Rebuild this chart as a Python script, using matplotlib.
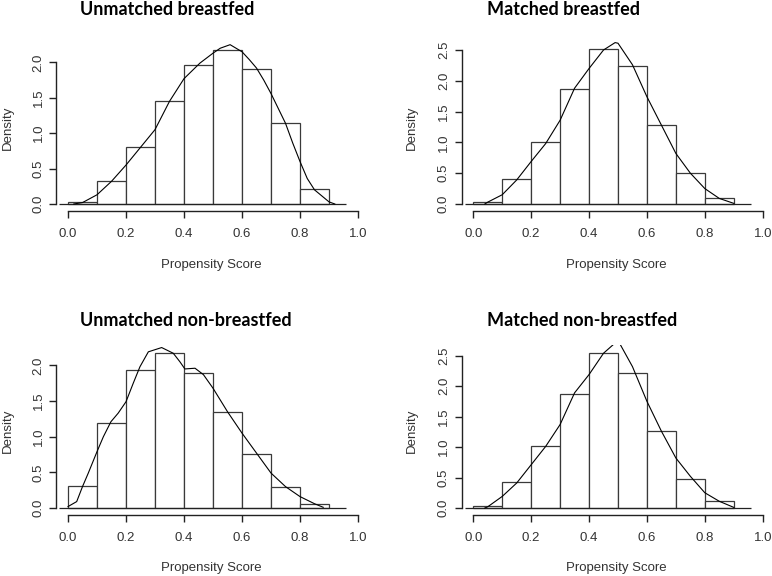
import matplotlib
matplotlib.use("Agg")
import matplotlib.pyplot as plt

W, H = 772, 576

# histogram bins (propensity score)
bin_left = [0.0, 0.1, 0.2, 0.3, 0.4, 0.5, 0.6, 0.7, 0.8]
bin_width = 0.1

# bar heights (density)
unmatched_bf = [0.03, 0.33, 0.80, 1.46, 1.96, 2.18, 1.90, 1.15, 0.21]
matched_bf = [0.04, 0.41, 1.01, 1.87, 2.51, 2.24, 1.28, 0.51, 0.09]
unmatched_nbf = [0.31, 1.19, 1.94, 2.18, 1.89, 1.35, 0.76, 0.29, 0.06]
matched_nbf = [0.04, 0.42, 1.01, 1.87, 2.54, 2.22, 1.27, 0.47, 0.11]

# kernel density curves
kde_x_ubf = [0.02, 0.05, 0.10, 0.15, 0.20, 0.25, 0.30, 0.35, 0.40, 0.455, 0.50, 0.525,
             0.559, 0.60, 0.625, 0.65, 0.675, 0.70, 0.725, 0.75, 0.775, 0.80, 0.825,
             0.85, 0.90, 0.92]
kde_y_ubf = [0.00, 0.02, 0.13, 0.32, 0.55, 0.80, 1.05, 1.45, 1.77, 1.99, 2.13, 2.20,
             2.25, 2.15, 2.04, 1.92, 1.75, 1.56, 1.35, 1.14, 0.86, 0.60, 0.36,
             0.20, 0.03, 0.00]

kde_x_mbf = [0.04, 0.05, 0.10, 0.15, 0.20, 0.25, 0.30, 0.35, 0.40, 0.45, 0.49, 0.50,
             0.55, 0.60, 0.65, 0.70, 0.75, 0.80, 0.85, 0.90]
kde_y_mbf = [0.00, 0.03, 0.15, 0.39, 0.69, 0.98, 1.36, 1.88, 2.20, 2.50, 2.62, 2.61,
             2.26, 1.74, 1.28, 0.82, 0.50, 0.25, 0.09, 0.01]

kde_x_unbf = [0.00, 0.03, 0.05, 0.07, 0.10, 0.122, 0.148, 0.173, 0.20, 0.225, 0.248,
              0.277, 0.323, 0.363, 0.386, 0.403, 0.438, 0.467, 0.50, 0.55, 0.60,
              0.65, 0.70, 0.75, 0.80, 0.85, 0.88]
kde_y_unbf = [0.02, 0.09, 0.30, 0.49, 0.79, 1.00, 1.21, 1.33, 1.49, 1.75, 1.98,
              2.19, 2.25, 2.17, 2.05, 1.95, 1.96, 1.87, 1.68, 1.35, 1.05,
              0.77, 0.49, 0.30, 0.16, 0.06, 0.01]

kde_x_mnbf = [0.04, 0.05, 0.10, 0.15, 0.20, 0.25, 0.30, 0.35, 0.40, 0.45, 0.50, 0.55,
              0.60, 0.65, 0.70, 0.75, 0.80, 0.85, 0.90]
kde_y_mnbf = [0.00, 0.02, 0.19, 0.41, 0.71, 1.01, 1.37, 1.89, 2.19, 2.54, 2.75, 2.32,
              1.75, 1.26, 0.82, 0.52, 0.25, 0.11, 0.01]

titles = ["Unmatched breastfed", "Matched breastfed",
          "Unmatched non-breastfed", "Matched non-breastfed"]
y_ticks = [[0.0, 0.5, 1.0, 1.5, 2.0], [0.0, 0.5, 1.0, 1.5, 2.0, 2.5],
           [0.0, 0.5, 1.0, 1.5, 2.0], [0.0, 0.5, 1.0, 1.5, 2.0, 2.5]]
x_ticks = [0.0, 0.2, 0.4, 0.6, 0.8, 1.0]

# layout in pixels: left, right, top, bottom, ylim, title anchor, label anchors
layout = [
    dict(box=(56.4, 369.6, 41, 211), ylim=(-0.099, 2.302), title=(80, 15),
         ylab=(8, 128), xlab=(211, 268)),
    dict(box=(461.7, 774.3, 41, 211), ylim=(-0.114, 2.646), title=(487, 15),
         ylab=(412, 128), xlab=(616, 268)),
    dict(box=(56.4, 369.6, 344.7, 514.7), ylim=(-0.094, 2.29), title=(80, 326),
         ylab=(8, 431), xlab=(211, 571)),
    dict(box=(461.7, 774.3, 344.7, 514.7), ylim=(-0.11, 2.68), title=(487, 326),
         ylab=(412, 431), xlab=(616, 571)),
]

heights = [unmatched_bf, matched_bf, unmatched_nbf, matched_nbf]
curves = [(kde_x_ubf, kde_y_ubf), (kde_x_mbf, kde_y_mbf),
          (kde_x_unbf, kde_y_unbf), (kde_x_mnbf, kde_y_mnbf)]

TXT = "#333333"
AX = "#222222"
FONT = "Liberation Sans"

fig = plt.figure(figsize=(W / 100, H / 100), dpi=100)


def px_rect(left, right, top, bottom):
    return [left / W, 1 - bottom / H, (right - left) / W, (bottom - top) / H]


for i in range(4):
    lay = layout[i]
    ax = fig.add_axes(px_rect(*lay["box"]))
    ax.bar(bin_left, heights[i], width=bin_width, align="edge",
           facecolor="white", edgecolor="#3a3a3a", linewidth=0.9)
    ax.hlines(0, -0.03, 0.96, color=AX, linewidth=0.9)
    kx, ky = curves[i]
    ax.plot(kx, ky, color="black", linewidth=0.8)

    ax.set_xlim(-0.04, 1.04)
    ax.set_ylim(*lay["ylim"])
    ax.set_xticks(x_ticks)
    ax.set_xticklabels([f"{v:.1f}" for v in x_ticks])
    ax.set_yticks(y_ticks[i])
    ax.set_yticklabels([f"{v:.1f}" for v in y_ticks[i]])

    for s in ["top", "right"]:
        ax.spines[s].set_visible(False)
    for s in ["left", "bottom"]:
        ax.spines[s].set_color(AX)
        ax.spines[s].set_linewidth(1.0)
    ax.spines["left"].set_bounds(0, y_ticks[i][-1])
    ax.spines["bottom"].set_bounds(0, 1.0)
    ax.patch.set_visible(False)

    ax.tick_params(axis="both", direction="out", length=5, width=1.0,
                   color=AX, labelcolor=TXT, labelsize=9.5)
    ax.tick_params(axis="x", pad=7.5)
    ax.tick_params(axis="y", pad=3.5, labelrotation=90)
    for lab in ax.get_xticklabels() + ax.get_yticklabels():
        lab.set_fontfamily(FONT)
    for lab in ax.get_yticklabels():
        lab.set_va("center")

    tx, ty = lay["title"]
    fig.text(tx / W, 1 - ty / H, titles[i], ha="left", va="baseline",
             fontsize=13, fontweight="bold", family="Lato", color="black")
    lx, ly = lay["ylab"]
    fig.text(lx / W, 1 - ly / H, "Density", rotation=90, ha="center",
             va="center", fontsize=9.5, family=FONT, color=TXT)
    xx, xy = lay["xlab"]
    fig.text(xx / W, 1 - xy / H, "Propensity Score", ha="center",
             va="baseline", fontsize=9.5, family=FONT, color=TXT)

fig.savefig("out.png", dpi=100, facecolor="white")
